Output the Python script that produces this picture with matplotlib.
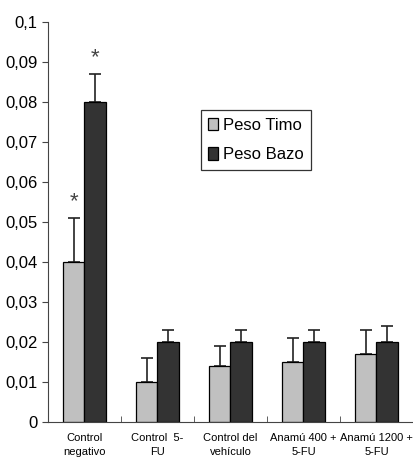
import matplotlib.pyplot as plt
import numpy as np

plt.rcParams['font.family'] = ['Liberation Sans', 'DejaVu Sans']

categorias = ['Control\nnegativo', 'Control  5-\nFU', 'Control del\nvehículo',
              'Anamú 400 +\n5-FU', 'Anamú 1200 +\n5-FU']
peso_timo = [0.040, 0.010, 0.014, 0.015, 0.017]
err_timo = [0.011, 0.006, 0.005, 0.006, 0.006]
peso_bazo = [0.080, 0.020, 0.020, 0.020, 0.020]
err_bazo = [0.007, 0.003, 0.003, 0.003, 0.004]
y_ticks = [0, 0.01, 0.02, 0.03, 0.04, 0.05, 0.06, 0.07, 0.08, 0.09, 0.1]
y_labels = ['0', '0,01', '0,02', '0,03', '0,04', '0,05', '0,06', '0,07', '0,08', '0,09', '0,1']

fig = plt.figure(figsize=(4.14, 4.66), dpi=100)
ax = fig.add_axes([48/414, 44/466, 365/414, 400/466])

x = np.arange(len(categorias))
w = 0.29
ax.bar(x - w/2, peso_timo, w, color='#c0c0c0', edgecolor='black', linewidth=0.9,
       label='Peso Timo', zorder=2)
ax.bar(x + w/2, peso_bazo, w, color='#333333', edgecolor='black', linewidth=0.9,
       label='Peso Bazo', zorder=2)
ax.errorbar(x - w/2, peso_timo, yerr=[np.zeros(5), err_timo], fmt='none',
            ecolor='#222222', elinewidth=1.2, capsize=4, capthick=1.2, zorder=1)
ax.errorbar(x + w/2, peso_bazo, yerr=[np.zeros(5), err_bazo], fmt='none',
            ecolor='#222222', elinewidth=1.2, capsize=4, capthick=1.2, zorder=1)

# asteriscos sobre control negativo
ax.text(x[0] - w/2, peso_timo[0] + err_timo[0] + 0.0015, '*', ha='center', va='bottom',
        fontsize=16, color='#444444')
ax.text(x[0] + w/2, peso_bazo[0] + err_bazo[0] + 0.0015, '*', ha='center', va='bottom',
        fontsize=16, color='#444444')

ax.set_xlim(-0.5, 4.5)
ax.set_ylim(0, 0.1)
ax.set_yticks(y_ticks)
ax.set_yticklabels(y_labels, fontsize=12)
ax.set_xticks(x)
ax.set_xticklabels(categorias, fontsize=8, linespacing=1.5)
ax.tick_params(axis='x', length=0, pad=8)
ax.set_xticks(np.arange(6) - 0.5, minor=True)
ax.tick_params(axis='x', which='minor', length=4, direction='in', color='#444444')
ax.tick_params(axis='y', length=4, color='#444444')

for s in ['top', 'right']:
    ax.spines[s].set_visible(False)
for s in ['left', 'bottom']:
    ax.spines[s].set_color('#444444')

leg = ax.legend(loc='upper left', bbox_to_anchor=(153/365, 312/400), fontsize=12,
                frameon=True, fancybox=False, handlelength=0.6, handleheight=0.8,
                handletextpad=0.25, borderpad=0.45, labelspacing=0.85,
                borderaxespad=0)
leg.get_frame().set_edgecolor('black')
leg.get_frame().set_linewidth(0.9)

fig.savefig('out.png', dpi=100)
